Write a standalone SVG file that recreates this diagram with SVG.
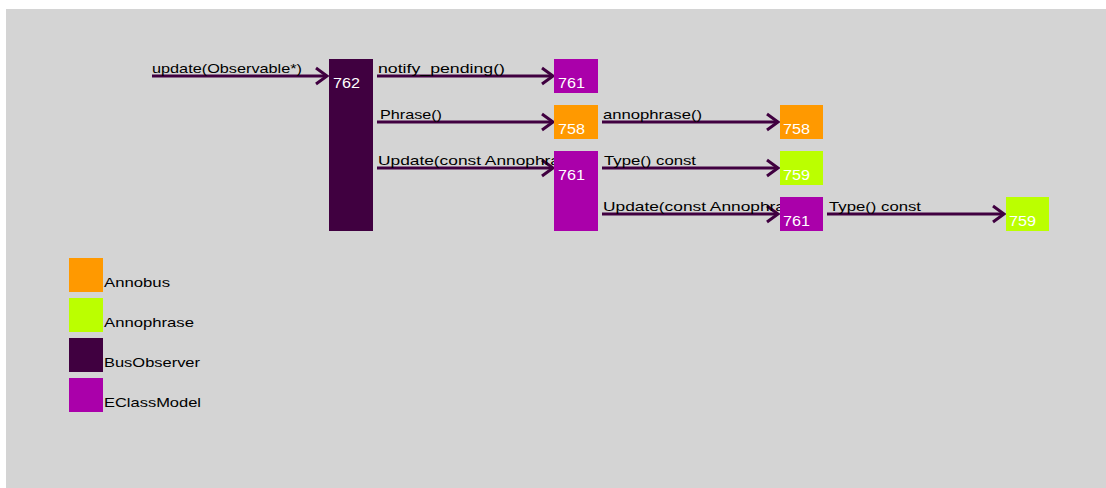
<svg xmlns="http://www.w3.org/2000/svg" width="1106" height="488" viewBox="0 0 1106 488">
<style>
.lbl{font-family:"Liberation Sans",Arial,sans-serif;font-size:13px;fill:#000}
.num{font-family:"Liberation Sans",Arial,sans-serif;font-size:14px;fill:#fff}
.edge{stroke:#400040;stroke-width:3;fill:none}
.bo{fill:#400040}
.ec{fill:#aa00aa}
.ab{fill:#ff9900}
.ap{fill:#bbff00}
</style>
<defs>
<marker id="arr" markerUnits="userSpaceOnUse" markerWidth="16" markerHeight="20" refX="13" refY="10" orient="auto">
<path d="M2,2 L13,10 L2,18" fill="none" stroke="#400040" stroke-width="3"/>
</marker>
</defs>
<rect x="0" y="0" width="1106" height="488" fill="#fff"/>
<rect x="6" y="9" width="1100" height="479" fill="#d4d4d4"/>
<g id="connectors">
<g id="e1"><line class="edge" x1="152" y1="76" x2="327" y2="76" marker-end="url(#arr)"/><text class="lbl" x="152" y="73" textLength="150" lengthAdjust="spacingAndGlyphs">update(Observable*)</text></g>
<g id="e2"><line class="edge" x1="377" y1="76" x2="553" y2="76" marker-end="url(#arr)"/><text class="lbl" x="378" y="73" textLength="127" lengthAdjust="spacingAndGlyphs">notify_pending()</text></g>
<g id="e3"><line class="edge" x1="377" y1="122" x2="553" y2="122" marker-end="url(#arr)"/><text class="lbl" x="380" y="119" textLength="62" lengthAdjust="spacingAndGlyphs">Phrase()</text></g>
<g id="e4"><line class="edge" x1="377" y1="168" x2="553" y2="168" marker-end="url(#arr)"/><text class="lbl" x="378" y="165" textLength="182" lengthAdjust="spacingAndGlyphs">Update(const Annophra</text></g>
<g id="e5"><line class="edge" x1="602" y1="122" x2="778" y2="122" marker-end="url(#arr)"/><text class="lbl" x="603" y="119" textLength="99" lengthAdjust="spacingAndGlyphs">annophrase()</text></g>
<g id="e6"><line class="edge" x1="602" y1="168" x2="778" y2="168" marker-end="url(#arr)"/><text class="lbl" x="604" y="165" textLength="92" lengthAdjust="spacingAndGlyphs">Type() const</text></g>
<g id="e7"><line class="edge" x1="602" y1="214" x2="778" y2="214" marker-end="url(#arr)"/><text class="lbl" x="603" y="211" textLength="182" lengthAdjust="spacingAndGlyphs">Update(const Annophra</text></g>
<g id="e8"><line class="edge" x1="827" y1="214" x2="1004" y2="214" marker-end="url(#arr)"/><text class="lbl" x="829" y="211" textLength="92" lengthAdjust="spacingAndGlyphs">Type() const</text></g>
</g>
<g id="n762"><rect class="bo" x="329" y="59" width="44" height="172"/><text class="num" x="333" y="88" textLength="27" lengthAdjust="spacingAndGlyphs">762</text></g>
<g id="n761a"><rect class="ec" x="554" y="59" width="44" height="34"/><text class="num" x="558" y="88" textLength="27" lengthAdjust="spacingAndGlyphs">761</text></g>
<g id="n758a"><rect class="ab" x="554" y="105" width="44" height="34"/><text class="num" x="558" y="134" textLength="27" lengthAdjust="spacingAndGlyphs">758</text></g>
<g id="n761b"><rect class="ec" x="554" y="151" width="44" height="80"/><text class="num" x="558" y="180" textLength="27" lengthAdjust="spacingAndGlyphs">761</text></g>
<g id="n758b"><rect class="ab" x="780" y="105" width="43" height="34"/><text class="num" x="783" y="134" textLength="27" lengthAdjust="spacingAndGlyphs">758</text></g>
<g id="n759a"><rect class="ap" x="780" y="151" width="43" height="34"/><text class="num" x="783" y="180" textLength="27" lengthAdjust="spacingAndGlyphs">759</text></g>
<g id="n761c"><rect class="ec" x="780" y="197" width="43" height="34"/><text class="num" x="783" y="226" textLength="27" lengthAdjust="spacingAndGlyphs">761</text></g>
<g id="n759b"><rect class="ap" x="1006" y="197" width="43" height="34"/><text class="num" x="1009" y="226" textLength="27" lengthAdjust="spacingAndGlyphs">759</text></g>
<g id="legend">
<rect class="ab" x="69" y="258" width="34" height="34"/><text class="lbl" x="104" y="287" textLength="66" lengthAdjust="spacingAndGlyphs">Annobus</text>
<rect class="ap" x="69" y="298" width="34" height="34"/><text class="lbl" x="104" y="327" textLength="90" lengthAdjust="spacingAndGlyphs">Annophrase</text>
<rect class="bo" x="69" y="338" width="34" height="34"/><text class="lbl" x="104" y="367" textLength="96" lengthAdjust="spacingAndGlyphs">BusObserver</text>
<rect class="ec" x="69" y="378" width="34" height="34"/><text class="lbl" x="104" y="407" textLength="97" lengthAdjust="spacingAndGlyphs">EClassModel</text>
</g>
</svg>
